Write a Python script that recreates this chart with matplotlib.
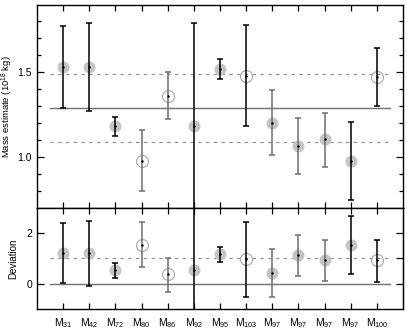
"""Mass estimates per cluster, with deviation panel."""

import numpy as np
import matplotlib
matplotlib.use("Agg")
import matplotlib.pyplot as plt

plt.rcParams["font.family"] = ["Liberation Sans", "DejaVu Sans"]
plt.rcParams["mathtext.fontset"] = "custom"
plt.rcParams["mathtext.rm"] = "Liberation Sans"
plt.rcParams["mathtext.it"] = "Liberation Sans"

# categories (subscripts of M)
labels = ["31", "42", "72", "80", "86", "92", "95", "103", "97", "97", "97", "97", "100"]
filled = [True, True, True, False, False, True, True, False, True, True, True, True, False]
dark_bar = [True, True, True, False, False, True, True, True, False, False, False, True, True]

# upper panel: mass estimate with error range
mass = [1.531, 1.531, 1.180, 0.978, 1.359, 1.180, 1.518, 1.478, 1.200, 1.062, 1.103, 0.976, 1.469]
mass_hi = [1.769, 1.788, 1.237, 1.157, 1.498, 1.786, 1.578, 1.775, 1.392, 1.228, 1.261, 1.206, 1.639]
mass_lo = [1.290, 1.272, 1.122, 0.800, 1.224, 0.300, 1.457, 1.184, 1.010, 0.898, 0.939, 0.747, 1.302]
mass_mean = 1.288
mass_band = 0.2

# lower panel: deviation with error range
dev = [1.20, 1.20, 0.53, 1.55, 0.38, 0.53, 1.16, 0.96, 0.42, 1.12, 0.94, 1.55, 0.92]
dev_hi = [2.40, 2.49, 0.83, 2.43, 1.03, 5.00, 1.45, 2.43, 1.38, 1.92, 1.73, 2.68, 1.74]
dev_lo = [0.03, -0.08, 0.23, 0.65, -0.32, -3.00, 0.85, -0.51, -0.52, 0.31, 0.12, 0.40, 0.05]

x = np.arange(1, len(labels) + 1)
fill_col = "#c4c4c4"
ring_col = "#a8a8a8"


def draw_points(ax, vals, hi, lo):
    for i in range(len(x)):
        if filled[i]:
            ax.plot(x[i], vals[i], "o", ms=8.6, color=fill_col, mec="none", zorder=2)
        else:
            ax.plot(x[i], vals[i], "o", ms=8.6, mfc="none", mec=ring_col, mew=0.8, zorder=2)
        col = "black" if dark_bar[i] else "#6e6e6e"
        ax.errorbar(x[i], vals[i], yerr=[[vals[i] - lo[i]], [hi[i] - vals[i]]],
                    fmt="none", ecolor=col, elinewidth=1.1, capsize=2.2, capthick=1.1, zorder=3)
        ax.plot(x[i], vals[i], ".", ms=1.5, color="black", zorder=4)


fig = plt.figure(figsize=(4.07, 3.30), dpi=100)
ax1 = fig.add_axes([0.091, 0.370, 0.899, 0.615])
ax2 = fig.add_axes([0.091, 0.064, 0.899, 0.306])

# upper panel
ax1.plot([0.5, 13.5], [mass_mean, mass_mean], color="#707070", lw=1.0, zorder=1)
for off in (mass_band, -mass_band):
    ax1.plot([0.5, 13.5], [mass_mean + off] * 2, color="#8a8a8a", lw=0.8,
             dashes=(3, 4), zorder=1)
draw_points(ax1, mass, mass_hi, mass_lo)
ax1.set_xlim(0, 14)
ax1.set_ylim(0.70, 1.895)
ax1.set_yticks([1.0, 1.5])
ax1.set_yticklabels(["1.0", "1.5"])
ax1.set_yticks(np.arange(0.8, 1.9, 0.1), minor=True)
ax1.set_xticks(x)
ax1.set_xticklabels([])
ax1.tick_params(axis="both", which="both", direction="in", top=True, right=True,
                labelsize=7.5, width=0.9)
ax1.tick_params(axis="y", which="major", length=5)
ax1.tick_params(axis="y", which="minor", length=3)
ax1.tick_params(axis="x", length=4.5)
ax1.set_ylabel("Mass estimate (10$^{18}$ kg)", fontsize=6.8, labelpad=2)

# lower panel
ax2.plot([0.5, 13.5], [0, 0], color="#707070", lw=1.0, zorder=1)
ax2.plot([0.5, 13.5], [1, 1], color="#8a8a8a", lw=0.8, dashes=(3, 4), zorder=1)
draw_points(ax2, dev, dev_hi, dev_lo)
ax2.set_xlim(0, 14)
ax2.set_ylim(-1, 3)
ax2.set_yticks([0, 2])
ax2.set_yticklabels(["0", "2"])
ax2.set_xticks(x)
ax2.set_xticklabels(["M$_{%s}$" % s for s in labels], fontsize=7.5)
ax2.tick_params(axis="both", direction="in", top=True, right=False,
                labelsize=7.5, width=0.9)
ax2.tick_params(axis="y", length=5)
ax2.tick_params(axis="x", length=4.5, pad=5)
sec = ax2.secondary_yaxis("right")
sec.set_yticks([0, 1, 2])
sec.set_yticklabels([])
sec.tick_params(direction="in", length=5, width=0.9)
ax2.set_ylabel("Deviation", fontsize=7, labelpad=6)

for ax in (ax1, ax2):
    for sp in ax.spines.values():
        sp.set_linewidth(1.0)

fig.savefig("out.png", dpi=100)
